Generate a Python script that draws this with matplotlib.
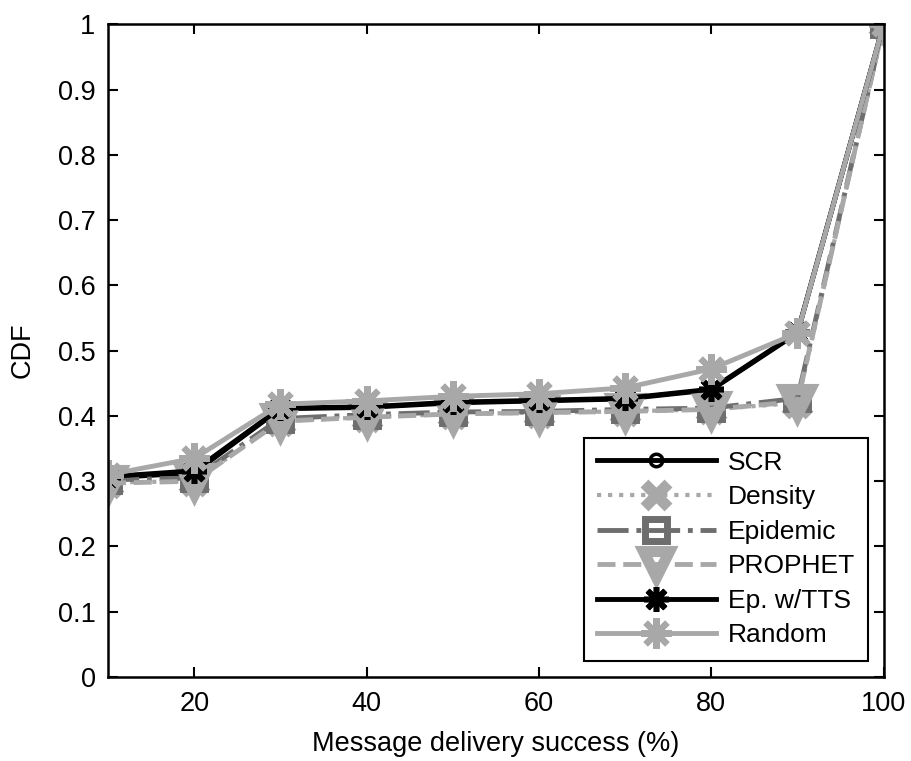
import matplotlib
matplotlib.use('Agg')
import matplotlib.pyplot as plt

plt.rcParams['font.family'] = ['Liberation Sans', 'DejaVu Sans']

# datos
x = [10, 20, 30, 40, 50, 60, 70, 80, 90, 100]
scr = [0.305, 0.313, 0.411, 0.413, 0.420, 0.423, 0.426, 0.440, 0.527, 1.0]
density = [0.298, 0.300, 0.392, 0.398, 0.403, 0.405, 0.407, 0.410, 0.420, 1.0]
epidemic = [0.302, 0.305, 0.396, 0.402, 0.406, 0.407, 0.410, 0.412, 0.427, 1.0]
prophet = [0.297, 0.300, 0.392, 0.398, 0.403, 0.405, 0.407, 0.410, 0.422, 1.0]
ep_tts = [0.307, 0.316, 0.412, 0.414, 0.421, 0.424, 0.427, 0.441, 0.528, 1.0]
random_ = [0.310, 0.335, 0.418, 0.423, 0.430, 0.434, 0.443, 0.472, 0.527, 1.0]

light = '#a8a8a8'
dark = '#6e6e6e'
ast = (8, 2, 0)

fig = plt.figure(figsize=(9.11, 7.61), dpi=100)
ax = fig.add_axes([0.1186, 0.1104, 0.8514, 0.8576])

ax.plot(x, scr, '-', color='black', lw=3.5, marker='o', ms=9, mfc='none', mew=2.5, label='SCR')
ax.plot(x, density, ':', color=light, lw=3, marker='x', ms=17, mew=8, label='Density')
ax.plot(x, epidemic, '-.', color=dark, lw=3.5, marker='s', ms=16, mfc='none', mew=5, label='Epidemic')
ax.plot(x, prophet, '--', color=light, lw=3.5, marker='v', ms=19, mfc='none', mew=8, label='PROPHET')
ax.plot(x, ep_tts, '-', color='black', lw=3.5, marker=ast, ms=18, mew=4, label='Ep. w/TTS')
ax.plot(x, random_, '-', color=light, lw=3.5, marker=ast, ms=22, mew=4.5, label='Random')

ax.set_xlim(10, 100)
ax.set_ylim(0, 1)
ax.set_xticks([20, 40, 60, 80, 100])
ax.set_yticks([0, 0.1, 0.2, 0.3, 0.4, 0.5, 0.6, 0.7, 0.8, 0.9, 1])
ax.set_yticklabels(['0', '0.1', '0.2', '0.3', '0.4', '0.5', '0.6', '0.7', '0.8', '0.9', '1'])
ax.tick_params(direction='in', labelsize=19.5, length=7, width=1.5, top=True, right=True)
ax.tick_params(axis='x', pad=10)
ax.tick_params(axis='y', pad=9)
for s in ax.spines.values():
    s.set_linewidth(1.8)
ax.set_xlabel('Message delivery success (%)', fontsize=19.5, labelpad=10)
ax.set_ylabel('CDF', fontsize=19.5, labelpad=16)

leg = ax.legend(loc='lower right', fontsize=19, fancybox=False, edgecolor='black',
                framealpha=1, handlelength=4.5, borderaxespad=0.0, labelspacing=0.4,
                handletextpad=0.45, borderpad=0.5, bbox_to_anchor=(0.98, 0.025))
leg.get_frame().set_linewidth(1.5)

fig.savefig('out.png', dpi=100)
